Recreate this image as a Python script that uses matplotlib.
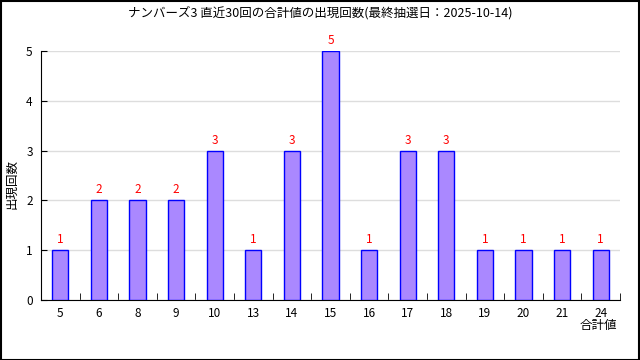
import matplotlib
matplotlib.use("Agg")
import matplotlib.pyplot as plt
from matplotlib.patches import Rectangle

plt.rcParams['font.family'] = ['Noto Sans CJK JP', 'DejaVu Sans']

categories = ["5", "6", "8", "9", "10", "13", "14", "15", "16", "17", "18", "19", "20", "21", "24"]
counts = [1, 2, 2, 2, 3, 1, 3, 5, 1, 3, 3, 1, 1, 1, 1]
title = "ナンバーズ3 直近30回の合計値の出現回数(最終抽選日：2025-10-14)"
ylabel = "出現回数"
xlabel = "合計値"

fig = plt.figure(figsize=(6.4, 3.6), dpi=100)
ax = fig.add_axes([41/640, 60/360, 579/640, 249/360])

x = list(range(len(categories)))
ax.bar(x, counts, width=0.42, color="#aa88ff", edgecolor="#0000ff", linewidth=1, zorder=3)
for xi, c in zip(x, counts):
    ax.text(xi, c + 0.08, str(c), color="red", ha="center", va="bottom", fontsize=8.5)

ax.set_xlim(-0.5, len(categories) - 0.5)
ax.set_ylim(0, 5)
ax.set_yticks(range(6))
ax.tick_params(axis='y', direction='in', length=4, labelsize=8.5, pad=6)
ax.yaxis.grid(True, color="#dddddd", linewidth=1, zorder=0)
ax.set_xticks(x)
ax.set_xticklabels(categories)
ax.tick_params(axis='x', length=0, labelsize=8.5, pad=5)
ax.set_xticks([i + 0.5 for i in x[:-1]] + [len(categories) - 0.5], minor=True)
ax.tick_params(axis='x', which='minor', direction='in', length=5)
for s in ["top", "right"]:
    ax.spines[s].set_visible(False)

fig.text(0.5, 0.965, title, ha="center", va="center", fontsize=9)
fig.text(12/640, 0.49, ylabel, rotation=90, ha="center", va="center", fontsize=9)
fig.text(598/640, 1 - 326/360, xlabel, ha="center", va="center", fontsize=9)

fig.patches.append(Rectangle((0.5/640, 0.5/360), 638.5/640, 358.5/360, transform=fig.transFigure,
                             fill=False, edgecolor="black", linewidth=1.5))

fig.savefig("out.png", dpi=100)
